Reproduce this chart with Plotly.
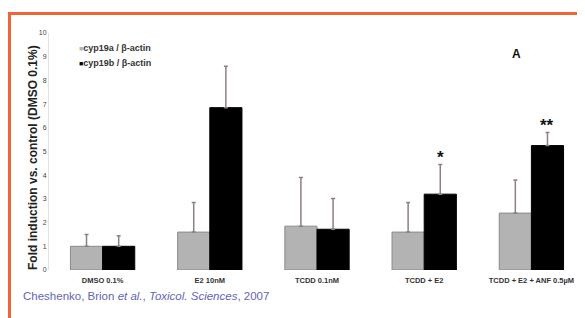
import plotly.graph_objects as go

categories = ["DMSO 0.1%", "E2 10nM", "TCDD 0.1nM", "TCDD + E2", "TCDD + E2 + ANF 0.5µM"]
series_names = ["cyp19a / β-actin", "cyp19b / β-actin"]
series_colors = ["#b3b3b3", "#000000"]
cyp19a = [1.0, 1.6, 1.85, 1.6, 2.4]
cyp19a_err = [0.5, 1.25, 2.05, 1.25, 1.4]
cyp19b = [1.0, 6.85, 1.72, 3.2, 5.25]
cyp19b_err = [0.45, 1.75, 1.3, 1.25, 0.55]
significance = ["", "", "", "*", "**"]
y_ticks = [0, 1, 2, 3, 4, 5, 6, 7, 8, 9, 10]
y_title = "Fold induction vs. control (DMSO 0.1%)"
citation_parts = ["Cheshenko, Brion ", "et al.", ", ", "Toxicol. Sciences", ", 2007"]
panel_label = "A"

# page body has an 8px margin; figure drawn from (8,8)
OFF = 8
W, H = 585 - OFF, 318 - OFF
PL, PR, PT, PB = 49, 585, 33, 270   # plot area in page pixels
ML, MR, MT, MB = PL - OFF, 0, PT - OFF, 318 - PB
pw = PR - PL
ph = PB - PT
FONT = "Liberation Sans, Arial"

def px_x(x):
    return (x - PL) / pw

def px_y(y):
    return (PB - y) / ph

fig = go.Figure()
for name, col, vals, errs, lc in [
    (series_names[0], series_colors[0], cyp19a, cyp19a_err, "#8a8a8a"),
    (series_names[1], series_colors[1], cyp19b, cyp19b_err, "#000000"),
]:
    fig.add_trace(go.Bar(
        x=categories, y=vals, name=name, showlegend=False,
        marker=dict(color=col, line=dict(color=lc, width=1)),
        error_y=dict(type="data", array=errs, symmetric=False,
                     arrayminus=[0] * len(errs),
                     color="#8f8080", thickness=1.5, width=2),
    ))

annotations = []
for i, s in enumerate(significance):
    if s:
        annotations.append(dict(
            x=i + 0.15, y=cyp19b[i] + cyp19b_err[i] + 0.3, xref="x", yref="y",
            text="<b>" + s + "</b>", showarrow=False,
            font=dict(family=FONT, size=17, color="#111111"),
        ))

# legend (as text entries)
for k, (name, col) in enumerate(zip(series_names, series_colors)):
    annotations.append(dict(
        x=px_x(77), y=px_y(48 + 15 * k), xref="paper", yref="paper",
        xanchor="left", yanchor="middle", showarrow=False,
        text="<span style='color:%s;font-size:7px'>■</span><b>%s</b>" % (col, name),
        font=dict(family=FONT, size=9, color="#333333"),
    ))

annotations.append(dict(
    x=px_x(24), y=px_y(158), xref="paper", yref="paper", text="<b>" + y_title + "</b>",
    textangle=-90, showarrow=False,
    font=dict(family=FONT, size=12, color="#222222"),
))
annotations.append(dict(
    x=px_x(523), y=px_y(45), xref="paper", yref="paper", text="<b>" + panel_label + "</b>",
    showarrow=False, font=dict(family=FONT, size=12, color="#111111"),
))
cit = (citation_parts[0] + "<i>" + citation_parts[1] + "</i>" + citation_parts[2]
       + "<i>" + citation_parts[3] + "</i>" + citation_parts[4])
annotations.append(dict(
    x=px_x(21), y=px_y(304), xref="paper", yref="paper", text=cit,
    xanchor="left", showarrow=False,
    font=dict(family=FONT, size=11.5, color="#6464b8"),
))

shapes = [
    dict(type="line", xref="paper", yref="paper", x0=px_x(8), x1=px_x(590),
         y0=px_y(13.5), y1=px_y(13.5), line=dict(color="#f06438", width=3)),
    dict(type="line", xref="paper", yref="paper", x0=px_x(9.5), x1=px_x(9.5),
         y0=px_y(12), y1=px_y(325), line=dict(color="#f06438", width=3)),
]

fig.update_layout(
    width=W, height=H,
    margin=dict(l=ML, r=MR, t=MT, b=MB, autoexpand=False),
    paper_bgcolor="white", plot_bgcolor="white",
    barmode="group", bargap=0.4, bargroupgap=0,
    showlegend=False,
    annotations=annotations,
    shapes=shapes,
    font=dict(family=FONT),
)
fig.update_xaxes(
    automargin=False,
    showgrid=False, showline=False, ticks="", ticklabelstandoff=4,
    tickfont=dict(family=FONT, size=7.5, color="#333333"),
    tickprefix="<b>", ticksuffix="</b>",
)
fig.update_yaxes(
    automargin=False,
    range=[0, 10], tickvals=y_ticks, showgrid=False, zeroline=False,
    showline=True, linecolor="#e2e2e2", linewidth=1, ticks="",
    tickfont=dict(family=FONT, size=7, color="#444444"),
    tickprefix="<b>", ticksuffix="</b>",
)

fig.write_html("out.html")
